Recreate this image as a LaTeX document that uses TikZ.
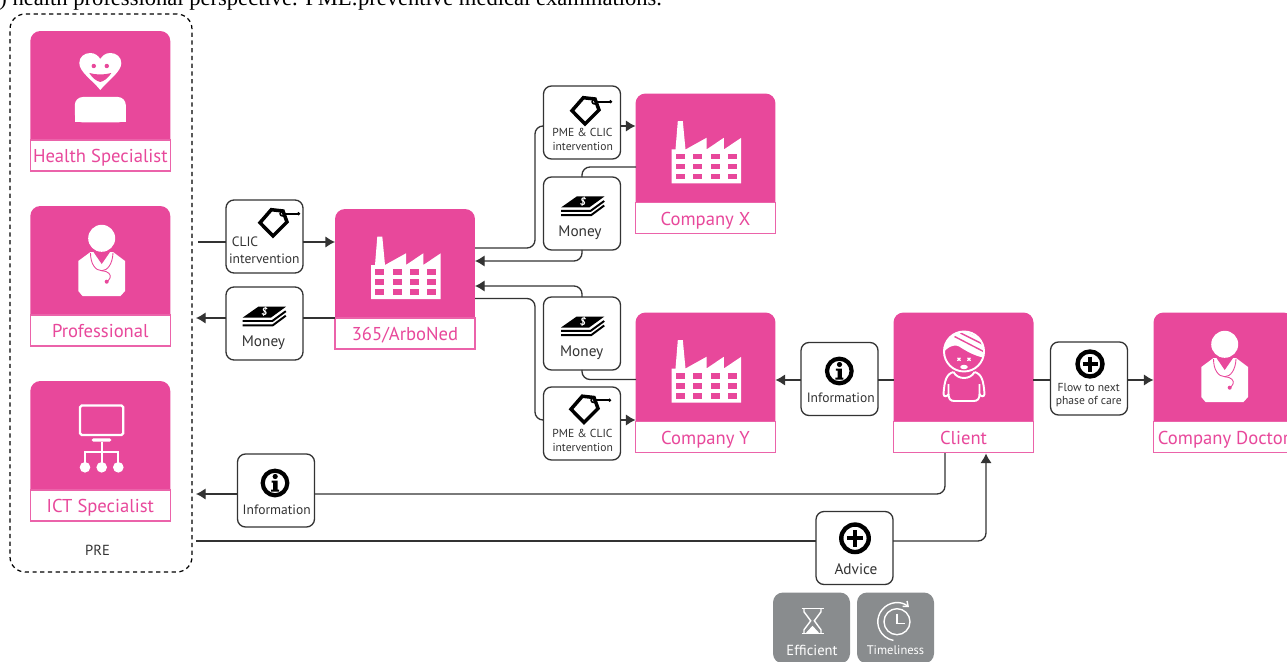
\documentclass[tikz,border=0pt]{standalone}
\usepackage{fontspec}
\setmainfont{PT Sans}
\newfontfamily\capfont{Liberation Serif}
\usetikzlibrary{arrows.meta}
\definecolor{cardpink}{HTML}{E8489B}
\definecolor{cardgrey}{HTML}{898C8E}
\definecolor{linegrey}{HTML}{333333}
\tikzset{>={Latex[length=5.5pt,width=6.5pt]}}
\tikzset{card/.style = {fill=cardpink, rounded corners=.2cm, minimum width=2.8cm,
minimum height=2.4cm, inner sep=0pt, outer sep=0pt}}
\tikzset{cardlabel/.style = {draw=cardpink!85, line width=.8pt, fill=white, text=cardpink,
minimum width=2.8cm, minimum height=.62cm, inner sep=0pt, outer sep=0pt,
text height=10pt, text depth=2pt, font=\fontsize{10.6}{12}\selectfont}}
\tikzset{infobox/.style = {draw=linegrey, line width=.75pt, fill=white, rounded corners=.16cm,
minimum width=1.54cm, minimum height=1.46cm, inner sep=0pt, outer sep=0pt}}
\tikzset{greybox/.style = {fill=cardgrey, rounded corners=.2cm, minimum width=1.54cm,
minimum height=1.42cm, inner sep=0pt, outer sep=0pt}}
\tikzset{boxtext/.style = {text=linegrey, inner sep=0pt, font=\fontsize{8.7}{10}\selectfont}}
\tikzset{smalltext/.style = {text=linegrey, inner sep=0pt, font=\fontsize{7.7}{9}\selectfont}}
\tikzset{tinytext/.style = {text=linegrey, inner sep=0pt, font=\fontsize{6.6}{8}\selectfont}}
\tikzset{link/.style = {draw=linegrey, line width=.75pt, rounded corners=.16cm}}
\tikzset{flow/.style = {link, ->}}
\tikzset{pics/factory/.style = {code = {
    \fill[white] (-34,90) -- (-34,56) -- (-30,56) -- (-27.7,27.7) -- (-22.7,27.7) -- (-20,56)
        -- (1,44.3) -- (1,56) -- (18.3,44.3) -- (18.3,56) -- (35.7,44.3) -- (35.7,90) -- cycle;
    \foreach \wx in {-30,-12.3,5,22.3}
        \foreach \wy in {60.3,70.3,80.3}
            \fill[cardpink] (\wx,\wy) rectangle ++(9,5.7);
}}}
\tikzset{pics/doctor/.style = {code = {
    \fill[white] (1.2,32.3) circle (13.5);
    \fill[white] (-10,46) -- (-22.2,55) -- (-22.2,85) -- (-18,90) -- (20,90) -- (24.5,85)
        -- (24.5,55) -- (12.5,46) -- cycle;
    \fill[cardpink] (-7,46) -- (1.2,58) -- (9.5,46) -- cycle;
    \draw[cardpink, line width=.5pt] (-10,47) .. controls (-10,58) and (-5,64.7) .. (1.2,64.7)
        .. controls (7,64.7) and (12,58) .. (12.5,47);
    \draw[cardpink, line width=.5pt] (1.2,64.7) .. controls (8,65) and (11,69) .. (9.5,72)
        .. controls (9,74) and (7,75) .. (6.2,75.7);
    \fill[cardpink] (6.2,75.7) circle (2);
}}}
\tikzset{pics/healthy/.style = {code = {
    \fill[white] (0,90) .. controls (-8,80) and (-21,72) .. (-21,63)
        .. controls (-21,57) and (-16,53) .. (-10,53) .. controls (-5,53) and (-2,56) .. (0,59)
        .. controls (2,56) and (5,53) .. (10,53) .. controls (16,53) and (21,57) .. (21,63)
        .. controls (21,72) and (8,80) .. (0,90) -- cycle;
    \fill[cardpink] (-6.5,66) circle (2.2);
    \fill[cardpink] (6.5,66) circle (2.2);
    \fill[cardpink] (-11,73) .. controls (-4,75) and (4,75) .. (11,73)
        .. controls (8,78) and (4,81) .. (0,82) .. controls (-4,81) and (-8,78) .. (-11,73) -- cycle;
    \fill[white, rounded corners=.16cm] (-25.5,122.5) -- (-25.5,97) -- (25.5,97) -- (25.5,122.5) -- cycle;
    \fill[white] (-25.5,115) rectangle (25.5,122.5);
}}}
\tikzset{pics/network/.style = {code = {
    \draw[white, line width=1.3pt, rounded corners=1pt] (-20.5,24.5) rectangle (22.8,54);
    \fill[white, rounded corners=1pt] (-9,57.3) rectangle (11,60.7);
    \draw[white, line width=1.3pt] (1.2,60.7) -- (1.2,82);
    \draw[white, line width=1.3pt] (-15.5,82) -- (-15.5,70.7) -- (17.8,70.7) -- (17.8,82);
    \fill[white] (-15.5,86.3) circle (5.3);
    \fill[white] (1.2,86.3) circle (5.3);
    \fill[white] (17.8,86.3) circle (5.3);
}}}
\tikzset{pics/patient/.style = {code = {
    \begin{scope}
        \clip (0.5,39.5) circle (20.5);
        \fill[white] (-22,43) .. controls (-16,34) and (-8,31) .. (-2,36)
            .. controls (6,41) and (14,45) .. (23,46) -- (23,15) -- (-22,15) -- cycle;
        \draw[cardpink, line width=.8pt] (-9,24.5) -- (21,40);
        \draw[cardpink, line width=.8pt] (-3,21) -- (21,33);
        \draw[cardpink, line width=.8pt] (3,19) -- (21,27);
    \end{scope}
    \draw[white, line width=1.1pt] (0.5,39.5) circle (20);
    \draw[white, line width=.7pt] (-6,45.8) -- (-3,48.8) (-6,48.8) -- (-3,45.8);
    \draw[white, line width=.7pt] (4,45.8) -- (7,48.8) (4,48.8) -- (7,45.8);
    \fill[white] (0.5,55) ellipse (3.8 and 2.2);
    \draw[white, line width=1.1pt] (-10,60) .. controls (-17,62) and (-19,68) .. (-20,82)
        .. controls (-20,85) and (-16,85) .. (-15,82) -- (-15,72);
    \draw[white, line width=1.1pt] (-15,82) .. controls (-15,87) and (-13,89) .. (-9,89) -- (10,89)
        .. controls (14,89) and (16,87) .. (16,82) -- (16,72);
    \draw[white, line width=1.1pt] (11,60) .. controls (18,62) and (20,68) .. (21,82)
        .. controls (21,85) and (17,85) .. (16,82);
    \draw[white, line width=1.1pt] (-10,60) .. controls (-6,68) and (7,68) .. (11,60);
}}}
\tikzset{pics/pricetag/.style = {code = {
    \draw[black, line width=2pt, line join=miter] (-13,0.7) -- (0,14) -- (14,0) -- (10,-11)
        -- (-1.7,-12.3) -- cycle;
    \draw[black, line width=.9pt] (9.3,-8.3) circle (2.2);
    \draw[black, line width=1.1pt] (11.5,-8.3) -- (25.5,-8.3);
    \fill[black] (25.5,-8.3) circle (1.8);
}}}
\tikzset{pics/cash/.style = {code = {
    \fill[black] (-20.7,1) -- (-5,-10) -- (22.7,-10) -- (7.5,1) -- cycle;
    \draw[black, line width=1.1pt] (-20.7,4.3) -- (9,4.3) -- (22.5,-5.5);
    \draw[black, line width=1.1pt] (-20.7,8.6) -- (9.5,8.6) -- (22.5,-1);
    \node[text=white, inner sep=0pt, rotate=-15, font=\fontsize{6}{6}\bfseries\selectfont] (-sign) at (1.5,-4.5) {\$};
}}}
\tikzset{pics/infomark/.style = {code = {
    \draw[black, line width=2.4pt] (0,0) circle (12.3);
    \fill[black] (0.2,-6.5) circle (2.6);
    \fill[black] (-3.5,-2.5) -- (2.5,-2.5) -- (2.5,6.5) -- (4,6.5) -- (4,8.7) -- (-4,8.7) -- (-4,6.5)
        -- (-1.8,6.5) -- (-1.8,-.5) -- (-3.5,-.5) -- cycle;
}}}
\tikzset{pics/plusmark/.style = {code = {
    \draw[black, line width=2.5pt] (0,0) circle (12.5);
    \draw[black, line width=2.4pt] (-7.5,0) -- (7.5,0) (0,-7.5) -- (0,7.5);
}}}
\tikzset{pics/hourglass/.style = {code = {
    \draw[white, line width=.8pt] (-11,-12.5) -- (11,-12.5) (-11,12.5) -- (11,12.5);
    \draw[white, line width=.8pt] (-8.5,-12.5) -- (-8.5,-9) -- (-1.8,0) -- (-8.5,9) -- (-8.5,12.5);
    \draw[white, line width=.8pt] (8.5,-12.5) -- (8.5,-9) -- (1.8,0) -- (8.5,9) -- (8.5,12.5);
    \fill[white] (-6.5,12) -- (0,5) -- (6.5,12) -- cycle;
}}}
\tikzset{pics/stopwatch/.style = {code = {
    \draw[white, line width=.8pt] (0,0) circle (13);
    \draw[white, line width=.8pt] (0,-8) -- (0,1.5) -- (8,1.5);
    \draw[white, line width=.8pt, {Straight Barb[length=2.5pt,width=4pt]}-] (12,-14.5)
        arc[start angle=-50, end angle=-260, radius=19];
}}}

\begin{document}
\begin{tikzpicture}[x=.02cm, y=-.02cm]
    \useasboundingbox (0,0) rectangle (1287,662);
    \clip (0,0) rectangle (1287,662);

    \node[anchor=base west, inner sep=0pt, text=black, font=\capfont\fontsize{12.85}{14}\selectfont] (caption) at (-1,6)
        {) health professional perspective. PME:preventive medical examinations.};

    \node[draw=black, line width=.7pt, dash pattern=on 2.4pt off 2pt, rounded corners=.3cm,
        minimum width=3.64cm, minimum height=11.16cm, inner sep=0pt] (pre) at (101,293) {};
    \node[boxtext, font=\fontsize{8.3}{10}\selectfont] (pretext) at (97.5,550) {PRE};

    % cards
    \node[card] (health) at (100.3,91) {};
    \node[cardlabel] (healthlabel) at (100.3,155.5) {Health Specialist};
    \node[card] (prof) at (100.3,266) {};
    \node[cardlabel] (proflabel) at (100.3,330.5) {Professional};
    \node[card] (ict) at (100.3,441) {};
    \node[cardlabel] (ictlabel) at (100.3,505.5) {ICT Specialist};
    \node[card] (arbo) at (405,269) {};
    \node[cardlabel] (arbolabel) at (405,333.5) {365/ArboNed};
    \node[card] (companyx) at (705.5,153.5) {};
    \node[cardlabel] (companyxlabel) at (705.5,218) {Company X};
    \node[card] (companyy) at (705.5,372.5) {};
    \node[cardlabel] (companyylabel) at (705.5,437) {Company Y};
    \node[card] (client) at (963.5,372.5) {};
    \node[cardlabel] (clientlabel) at (963.5,437) {Client};
    \node[card] (doctor) at (1223.5,372.5) {};
    \node[cardlabel] (doctorlabel) at (1223.5,437) {Company Doctor};

    \pic (healthicon) at (100.3,0) {healthy};
    \pic (proficon) at (100.5,206) {doctor};
    \pic (icticon) at (100.5,381) {network};
    \pic (arboicon) at (405,209) {factory};
    \pic (xicon) at (705.5,93.5) {factory};
    \pic (yicon) at (705.5,312.5) {factory};
    \pic (clienticon) at (963.5,312) {patient};
    \pic (doctoricon) at (1223.5,312) {doctor};

    % small boxes
    \node[infobox] (clic) at (264.5,236.5) {};
    \node[infobox] (moneya) at (264.5,323.5) {};
    \node[infobox] (pmex) at (582,122.5) {};
    \node[infobox] (moneyx) at (582,213.5) {};
    \node[infobox] (moneyy) at (582,333.5) {};
    \node[infobox] (pmey) at (582,423.5) {};
    \node[infobox] (infoy) at (839.5,379) {};
    \node[infobox] (care) at (1089,378.5) {};
    \node[infobox] (infoict) at (276,490.5) {};
    \node[infobox] (advice) at (854.5,548) {};
    \node[greybox] (efficient) at (811.5,628) {};
    \node[greybox] (timeliness) at (895.5,628) {};

    \pic (clictag) at (273,222) {pricetag};
    \pic (pmextag) at (585,110) {pricetag};
    \pic (pmeytag) at (584,408.5) {pricetag};
    \pic (moneyacash) at (263.3,316.7) {cash};
    \pic (moneyxcash) at (581.7,206.5) {cash};
    \pic (moneyycash) at (581.7,326.5) {cash};
    \pic (infoymark) at (839.3,371) {infomark};
    \pic (infoictmark) at (275,483) {infomark};
    \pic (caremark) at (1090,364) {plusmark};
    \pic[scale=1.1] (advicemark) at (855,538.3) {plusmark};
    \pic (effmark) at (812.5,620.8) {hourglass};
    \pic (timemark) at (897,621.7) {stopwatch};

    \node[smalltext] (clictext) at (245,242) {CLIC};
    \node[smalltext] (clictexttwo) at (264.3,258.3) {intervention};
    \node[boxtext] (moneyatext) at (263.5,342.5) {Money};
    \node[tinytext] (pmextext) at (582.5,132.3) {PME \& CLIC};
    \node[tinytext] (pmextexttwo) at (582.7,146.7) {intervention};
    \node[boxtext] (moneyxtext) at (580,233) {Money};
    \node[boxtext] (moneyytext) at (581.7,353) {Money};
    \node[tinytext] (pmeytext) at (582.5,433.3) {PME \& CLIC};
    \node[tinytext] (pmeytexttwo) at (582.7,447.7) {intervention};
    \node[smalltext] (infoytext) at (840.7,397.7) {Information};
    \node[tinytext] (caretext) at (1088.7,387.3) {Flow to next};
    \node[tinytext] (caretexttwo) at (1088.7,402) {phase of care};
    \node[boxtext] (advicetext) at (856,569) {Advice};
    \node[smalltext] (infoicttext) at (276.7,509.3) {Information};
    \node[boxtext, text=white, font=\fontsize{8.3}{10}\selectfont] (efficienttext) at (812,650.5) {Efficient};
    \node[smalltext, text=white, font=\fontsize{7.1}{9}\selectfont] (timetext) at (895.5,650.5) {Timeliness};

    % free ends and line levels
    \coordinate (clicin) at (198,242);
    \coordinate (moneyout) at (196,318);
    \coordinate (xup) at (475,248);
    \coordinate (xdown) at (475,261);
    \coordinate (yup) at (475,286);
    \coordinate (ydown) at (475,298.5);
    \coordinate (pmexin) at (543.5,126);
    \coordinate (pmeyin) at (543.5,420);
    \coordinate (xback) at (636,167);
    \coordinate (yback) at (636,379.5);
    \coordinate (clientline) at (1033,380);
    \coordinate (clientdown) at (945,453);
    \coordinate (clientup) at (986,453.5);
    \coordinate (ictlevel) at (196,494);
    \coordinate (prelevel) at (196,541);

    % connectors
    \draw[link] (clicin) -- (clicin -| clic.west);
    \draw[flow] (clicin -| clic.east) -- (clicin -| arbo.west);
    \draw[link] (moneyout -| arbo.west) -- (moneyout -| moneya.east);
    \draw[flow] (moneyout -| moneya.west) -- (moneyout);
    \draw[link] (xup) -- (535,248) -- (535,126) -- (pmexin);
    \draw[flow] (pmexin -| pmex.east) -- (pmexin -| companyx.west);
    \draw[link] (xback) -- (582,167) -- (moneyx.north);
    \draw[flow] (moneyx.south) -- (582,261) -- (xdown);
    \draw[flow] (moneyy.north) -- (582,286) -- (yup);
    \draw[link] (yback) -- (582,379.5) -- (moneyy.south);
    \draw[link] (ydown) -- (535,298.5) -- (535,420) -- (pmeyin);
    \draw[flow] (pmeyin -| pmey.east) -- (pmeyin -| companyy.west);
    \draw[link] (clientline -| client.west) -- (clientline -| infoy.east);
    \draw[flow] (clientline -| infoy.west) -- (clientline -| companyy.east);
    \draw[link] (clientline) -- (clientline -| care.west);
    \draw[flow] (clientline -| care.east) -- (clientline -| doctor.west);
    \draw[link] (clientdown) -- (945,494) -- (ictlevel -| infoict.east);
    \draw[flow] (ictlevel -| infoict.west) -- (ictlevel);
    \draw[link] (prelevel) -- (prelevel -| advice.west);
    \draw[flow] (prelevel -| advice.east) -- (986,541) -- (clientup);
\end{tikzpicture}
\end{document}
